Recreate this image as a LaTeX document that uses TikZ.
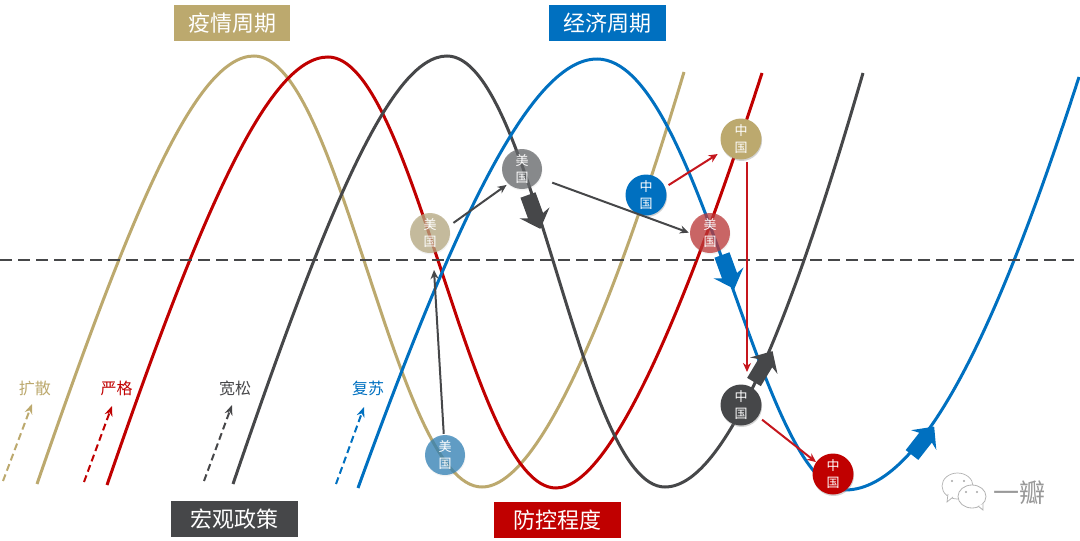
\documentclass[tikz,border=0pt]{standalone}
\usepackage{fontspec}
\setmainfont{Noto Sans CJK SC}
\usetikzlibrary{arrows.meta,shadows}
\definecolor{ctan}{HTML}{BCA96E}
\definecolor{cred}{HTML}{C00000}
\definecolor{cdark}{HTML}{464749}
\definecolor{cblue}{HTML}{0070C0}
\definecolor{carrowred}{HTML}{C5161D}
\definecolor{utan}{HTML}{B5A880}
\definecolor{ugrey}{HTML}{65676A}
\definecolor{ured}{HTML}{BC3737}
\definecolor{ublue}{HTML}{3080B5}
\tikzset{
  curve/.style={line width=3pt},
  banner/.style={minimum width=#1,minimum height=36pt,inner sep=0pt,text=white,font=\fontsize{22}{24}\selectfont},
  legend/.style={font=\fontsize{16}{18}\selectfont,inner sep=0pt},
  legarrow/.style={line width=2pt,dash pattern=on 7pt off 4pt,-{Stealth[length=10pt,width=8pt]}},
  roundel/.style={circle,minimum size=#1,inner sep=0pt,align=center,text=white,text opacity=1,
    font=\fontsize{13}{17}\selectfont},
  china/.style={roundel=41pt,drop shadow={opacity=.35,shadow xshift=.6pt,shadow yshift=-1.5pt}},
  usa/.style={roundel=40pt,fill opacity=.75,drop shadow={opacity=.1,shadow xshift=.6pt,shadow yshift=-1.5pt}},
  linkd/.style={draw=cdark,line width=2pt,-{Stealth[length=9pt,width=8pt]}},
  linkr/.style={draw=carrowred,line width=2pt,-{Stealth[length=9pt,width=8pt]}},
}
\newcommand{\fatarrow}[4]{\fill[#4,shift={(#1,#2)},rotate=#3]
  (0,-8) -- (22,-8) -- (19,-16) -- (36,0) -- (19,16) -- (22,8) -- (0,8) -- cycle;}
\begin{document}
\begin{tikzpicture}[x=1pt,y=-1pt]
\useasboundingbox (0,0) rectangle (1080,541);
% curves
\draw[curve,ctan] (37,484) .. controls (130,215) and (195,56) .. (254,56)
  .. controls (340,56) and (395,487) .. (482,487)
  .. controls (545,487) and (625,270) .. (684,72);
\draw[curve,cred] (107,485) .. controls (200,215) and (268,57) .. (328,57)
  .. controls (414,57) and (470,488) .. (556,488)
  .. controls (615,488) and (695,280) .. (762,73);
\draw[curve,cdark] (233,484) .. controls (325,215) and (390,56) .. (447,56)
  .. controls (533,56) and (580,487) .. (665,487)
  .. controls (730,487) and (800,290) .. (863,73);
\draw[curve,cblue] (358,488) .. controls (457,215) and (532,59) .. (597,59)
  .. controls (700,59) and (760,490) .. (845,490)
  .. controls (930,490) and (1010,290) .. (1079,77);
% axis
\coordinate (axisL) at (0,260);
\coordinate (axisR) at (1080,260);
\draw[cdark,line width=2pt,dash pattern=on 12pt off 6pt] (axisL) -- (axisR);
% fat arrows
\fatarrow{528}{195}{-70}{cdark}
\fatarrow{722}{255}{-70}{cblue}
\fatarrow{754}{382}{59}{cdark}
\fatarrow{912}{455}{52}{cblue}
% roundels
\node[usa,fill=utan] (usTan) at (430,233) {美\\国};
\node[usa,fill=ugrey] (usGrey) at (522,169) {美\\国};
\node[usa,fill=ured] (usRed) at (710,233) {美\\国};
\node[usa,fill=ublue] (usBlue) at (445,455) {美\\国};
\node[china,fill=cblue] (cnBlue) at (646,195) {中\\国};
\node[china,fill=ctan] (cnTan) at (741,139) {中\\国};
\node[china,fill=cdark] (cnDark) at (741,405) {中\\国};
\node[china,fill=cred] (cnRed) at (833,474) {中\\国};
% links
\coordinate (usTanIn) at (434,270);
\draw[linkd,shorten <=1pt] (usBlue) -- (usTanIn);
\draw[linkd,shorten <=5.5pt,shorten >=2pt] (usTan.20) -- (usGrey.227);
\draw[linkd,shorten <=13pt,shorten >=1pt] (usGrey.-27) -- (usRed.180);
\draw[linkr,shorten <=4pt,shorten >=7pt] (cnBlue.22) -- (cnTan.213);
\coordinate (cnTanOut) at (747,162);
\coordinate (cnDarkIn) at (747,372);
\draw[linkr] (cnTanOut) -- (cnDarkIn);
\draw[linkr,shorten <=5pt] (cnDark.-34) -- (cnRed.145);
% banners
\node[banner=116pt,fill=ctan] (b1) at (232,23) {疫情周期};
\node[banner=117pt,fill=cblue] (b2) at (607.5,23) {经济周期};
\node[banner=127pt,fill=cdark] (b3) at (234,519) {宏观政策};
\node[banner=127pt,fill=cred] (b4) at (557.5,520) {防控程度};
% legend
\node[legend,text=ctan] (l1) at (35,388) {扩散};
\node[legend,text=cred] (l2) at (116.5,388) {严格};
\node[legend,text=cdark] (l3) at (235,388) {宽松};
\node[legend,text=cblue] (l4) at (368,388) {复苏};
\coordinate (a1) at (3,481); \coordinate (a2) at (84,482);
\coordinate (a3) at (204,481); \coordinate (a4) at (336,484);
\coordinate (t1) at (32,404); \coordinate (t2) at (112,406);
\coordinate (t3) at (232,405); \coordinate (t4) at (364,407);
\draw[legarrow,ctan] (a1) -- (t1);
\draw[legarrow,cred] (a2) -- (t2);
\draw[legarrow,cdark] (a3) -- (t3);
\draw[legarrow,cblue] (a4) -- (t4);
% watermark
\draw[gray!60,fill=white,line width=.7pt] (957.5,486) ellipse (15.5pt and 13pt);
\draw[gray!60,fill=white,line width=.7pt] (953,497) -- (947,502) -- (948,494);
\draw[gray!60,fill=white,line width=.8pt] (972,496.5) ellipse (14pt and 11.5pt);
\draw[gray!60,fill=white,line width=.8pt] (978,506) -- (983,510) -- (983,504);
\fill[gray!70] (952,481) circle (1.2pt) (964,481) circle (1.2pt) (966,492) circle (1.2pt) (977,492) circle (1.2pt);
\node[text=gray!80,font=\fontsize{26}{28}\selectfont,inner sep=0pt] (wm) at (1019,493) {一瓣};
\end{tikzpicture}
\end{document}
